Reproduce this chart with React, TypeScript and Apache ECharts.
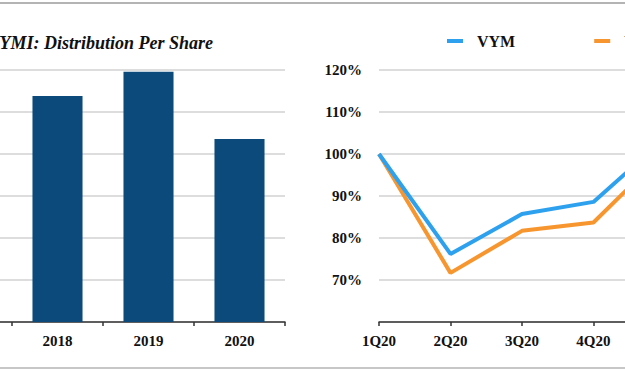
import React, { useEffect, useRef } from "react";
import * as echarts from "echarts";

const barYears = ["2017", "2018", "2019", "2020"];
const distributionPerShare: (number | null)[] = [null, 2.69, 2.98, 2.18];

const quarters = ["1Q20", "2Q20", "3Q20", "4Q20", "1Q21"];
const vymValues = [100, 76.2, 85.7, 88.6, 103.7];
const vymiValues = [100, 71.7, 81.7, 83.7, 100.4];

const OX = 120; // chart canvas is shifted left so that the crop matches

export default function App() {
  const ref = useRef<HTMLDivElement>(null);
  useEffect(() => {
    if (!ref.current) return;
    const chart = echarts.init(ref.current, null, { renderer: "svg" });
    const serif = "'Liberation Serif', 'DejaVu Serif', serif";
    const labelStyle = {
      fontFamily: serif,
      fontWeight: "bold" as const,
      fontSize: 15,
      color: "#111",
    };
    const axisLine = { show: true, lineStyle: { color: "#333", width: 1.5 } };
    const axisTick = { show: true, length: 4, lineStyle: { color: "#333", width: 1.5 } };
    const splitLine = { show: true, lineStyle: { color: "#d2d2d2", width: 1.5 } };
    chart.setOption({
      animation: false,
      backgroundColor: "#fff",
      grid: [
        { left: 41, width: 364, top: 70, height: 252 },
        { left: 499, width: 290, top: 70, height: 252 },
      ],
      legend: {
        data: ["VYM", "VYMI"],
        left: 447 + OX,
        top: 33,
        padding: 0,
        icon: "rect",
        itemWidth: 16,
        itemHeight: 4,
        itemGap: 79,
        textStyle: { ...labelStyle, fontSize: 16, padding: [0, 0, 0, 9] },
      },
      xAxis: [
        {
          type: "category",
          gridIndex: 0,
          data: barYears,
          axisLine,
          axisTick,
          axisLabel: { ...labelStyle, margin: 11 },
        },
        {
          type: "category",
          gridIndex: 1,
          data: quarters,
          boundaryGap: false,
          axisLine,
          axisTick,
          axisLabel: { ...labelStyle, margin: 11 },
        },
      ],
      yAxis: [
        {
          type: "value",
          gridIndex: 0,
          min: 0,
          max: 3,
          interval: 0.5,
          axisLine: { show: false },
          axisTick: { show: false },
          axisLabel: { show: false },
          splitLine,
        },
        {
          type: "value",
          gridIndex: 1,
          min: 60,
          max: 120,
          interval: 10,
          axisLine: { show: false },
          axisTick: { show: false },
          axisLabel: { ...labelStyle, formatter: "{value}%", margin: 17, showMinLabel: false },
          splitLine,
        },
      ],
      series: [
        {
          name: "Distribution Per Share",
          type: "bar",
          xAxisIndex: 0,
          yAxisIndex: 0,
          data: distributionPerShare,
          barWidth: "55%",
          itemStyle: { color: "#0b4a7b" },
        },
        {
          name: "VYMI",
          type: "line",
          xAxisIndex: 1,
          yAxisIndex: 1,
          data: vymiValues,
          showSymbol: false,
          symbol: "none",
          lineStyle: { color: "#f7962f", width: 4 },
          itemStyle: { color: "#f7962f" },
          z: 2,
        },
        {
          name: "VYM",
          type: "line",
          xAxisIndex: 1,
          yAxisIndex: 1,
          data: vymValues,
          showSymbol: false,
          symbol: "none",
          lineStyle: { color: "#2ea1ee", width: 4 },
          itemStyle: { color: "#2ea1ee" },
          z: 3,
        },
      ],
      graphic: [
        {
          type: "text",
          x: 213 + OX,
          y: 43,
          style: {
            text: "VYMI: Distribution Per Share",
            fontFamily: serif,
            fontWeight: "bold",
            fontStyle: "italic",
            fontSize: 18,
            fill: "#111",
            textAlign: "right",
            textVerticalAlign: "middle",
          },
        },
        {
          type: "line",
          shape: { x1: OX, y1: 3, x2: OX + 625, y2: 3 },
          style: { stroke: "#b4b4b4", lineWidth: 2 },
        },
        {
          type: "line",
          shape: { x1: OX, y1: 368, x2: OX + 625, y2: 368 },
          style: { stroke: "#b4b4b4", lineWidth: 1.5 },
        },
      ],
    });
    return () => chart.dispose();
  }, []);
  return (
    <div
      style={{
        position: "fixed",
        left: 0,
        top: 0,
        width: 625,
        height: 375,
        overflow: "hidden",
        background: "#fff",
      }}
    >
      <div
        ref={ref}
        style={{ position: "absolute", left: -OX, top: 0, width: 805, height: 375 }}
      />
    </div>
  );
}
